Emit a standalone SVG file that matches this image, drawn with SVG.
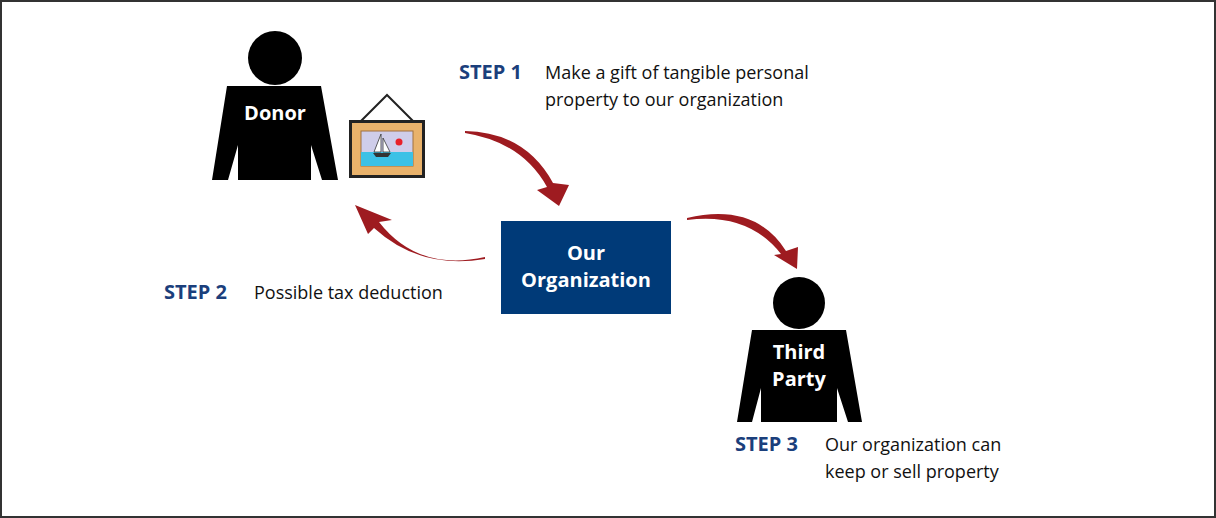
<svg xmlns="http://www.w3.org/2000/svg" width="1216" height="518" viewBox="0 0 1216 518">
<style>
.step{font-family:"Open Sans","Liberation Sans",sans-serif;font-weight:700;font-size:20px;fill:#1b3f7c}
.desc{font-family:"Open Sans","Liberation Sans",sans-serif;font-size:18px;fill:#111}
.lbl{font-family:"Open Sans","Liberation Sans",sans-serif;font-weight:700;font-size:20px;fill:#fff;text-anchor:middle}
.arr{fill:#9e1b20}
</style>
<rect x="1" y="1" width="1214" height="516" fill="#fff" stroke="#333" stroke-width="2"/>
<g id="donor">
<circle cx="275" cy="58" r="27"/>
<polygon points="227,86 321,86 338,180 322,180 311,145 311,180 238,180 238,145 228,180 212,180"/>
<text class="lbl" x="275" y="120">Donor</text>
</g>
<g id="painting">
<polyline points="361,121 387,95 413,121" fill="none" stroke="#222" stroke-width="2"/>
<rect x="349" y="120" width="76" height="58" fill="#222"/>
<rect x="352" y="123" width="70" height="52" fill="#e9b26b"/>
<rect x="361" y="131" width="52" height="35" fill="#cfcdea" stroke="#a07040"/>
<rect x="361" y="152" width="52" height="14" fill="#3cc1e6"/>
<polygon points="381,134 381,152 374,152" fill="#fff" stroke="#333" stroke-width="0.8"/>
<polygon points="383,138 383,152 390,152" fill="#fff" stroke="#333" stroke-width="0.8"/>
<path d="M373,153 L391,153 L388,157 L376,157 Z" fill="#333"/>
<circle cx="399" cy="142" r="3.5" fill="#e8202a"/>
</g>
<g id="org">
<rect x="501" y="221" width="170" height="93" fill="#003a78"/>
<text class="lbl" x="586" y="260">Our</text>
<text class="lbl" x="586" y="287">Organization</text>
</g>
<g id="third">
<circle cx="799" cy="303" r="26"/>
<polygon points="752,330 846,330 862,422 848,422 837,388 837,422 761,422 761,388 752,422 737,422"/>
<text class="lbl" x="799" y="359">Third</text>
<text class="lbl" x="799" y="386">Party</text>
</g>
<g id="connectors">
<path class="arr" d="M465,131 Q525,132 553,183 L569,185 L559,206 L537,190 L547,187 Q522,142 465,133 Z"/>
<path class="arr" d="M485,257 Q418,272 379,222 L392,220 L355,205 L368,234 L374,228 Q420,270 485,259 Z"/>
<path class="arr" d="M687,218 Q755,202 786,251 L798,247 L797,269 L774,255 L781,254 Q748,212 687,220 Z"/>
</g>
<g id="texts">
<text class="step" x="459" y="79">STEP 1</text>
<text class="desc" x="545" y="79">Make a gift of tangible personal</text>
<text class="desc" x="545" y="106">property to our organization</text>
<text class="step" x="164" y="299">STEP 2</text>
<text class="desc" x="254" y="299">Possible tax deduction</text>
<text class="step" x="735" y="451">STEP 3</text>
<text class="desc" x="825" y="451">Our organization can</text>
<text class="desc" x="825" y="478">keep or sell property</text>
</g>
</svg>
